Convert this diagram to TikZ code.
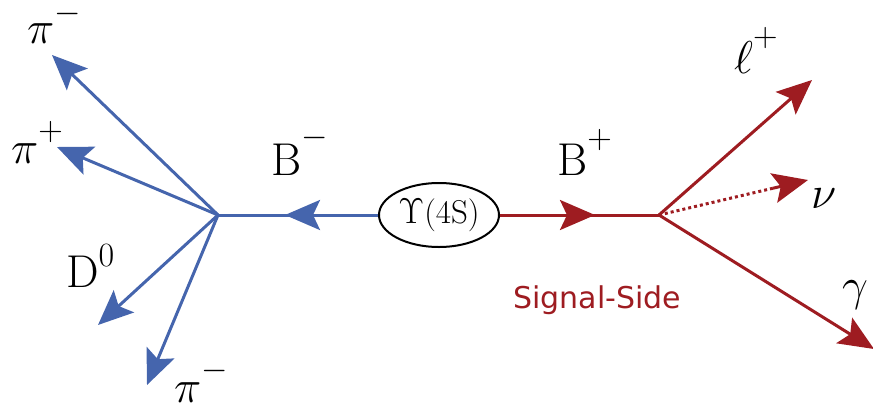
\RequirePackage{fix-cm}
\documentclass[tikz,border=0pt]{standalone}
\usepackage{fontspec}
\newfontfamily\sigfont{DejaVu Sans}
\usetikzlibrary{arrows.meta,shapes.geometric,calc}
\definecolor{tagblue}{HTML}{4565AD}
\definecolor{sigred}{HTML}{9E1C21}
\newcommand\hsup[2][23]{\raisebox{#1pt}[0pt][0pt]{\fontsize{34}{34}\selectfont$#2$}}
\tikzset{
  tiphead/.tip={Stealth[length=35pt,width=30pt,inset=7pt]},
  bline/.style={draw=tagblue,line width=3pt},
  rline/.style={draw=sigred,line width=3pt},
  barrow/.style={bline,-{tiphead[fill=tagblue]}},
  rarrow/.style={rline,-{tiphead[fill=sigred]}},
  lbl/.style={font=\fontsize{46}{50}\selectfont,inner sep=0pt,anchor=base west},
}
\begin{document}
\begin{tikzpicture}[x=1pt,y=-1pt]
\useasboundingbox (0,0) rectangle (873,410);
% central node
\node[draw=black,line width=2pt,ellipse,minimum width=120pt,minimum height=64pt,inner sep=0pt] (ups) at (439,215)
  {{\fontsize{36}{40}\selectfont$\Upsilon$}{\fontsize{33}{36}\selectfont(4S)}};
% vertices and tips
\coordinate (vL) at (218,215);
\coordinate (vR) at (659,215);
\coordinate (mL) at (285,215);
\coordinate (mR) at (595,215);
\coordinate (tA) at (52,55);
\coordinate (tB) at (57,147);
\coordinate (tC) at (98,325);
\coordinate (tD) at (147,385);
\coordinate (tE) at (812,80);
\coordinate (tF) at (808,180);
\coordinate (tG) at (874,349);
% tag side
\draw[bline] (ups.west) -- (vL);
\draw[barrow] (ups.west) -- (mL);
\draw[barrow] (vL) -- (tA);
\draw[barrow] (vL) -- (tB);
\draw[barrow] (vL) -- (tC);
\draw[barrow] (vL) -- (tD);
% signal side
\draw[rline] (ups.east) -- (vR);
\draw[rarrow] (ups.east) -- (mR);
\draw[rarrow] (vR) -- (tE);
\draw[rarrow] (vR) -- (tG);
\draw[sigred,line width=3pt,dash pattern=on 3pt off 3pt] (vR) -- ($(tF)!33pt!(vR)$);
\draw[rarrow] ($(tF)!36pt!(vR)$) -- (tF);
% labels
\node[lbl] (lA) at (27,43) {$\pi$\hsup[21]{-}};
\node[lbl] (lB) at (11,163) {$\pi$\hsup{+}};
\node[lbl] (lC) at (66,287) {D\hsup[21]{0}};
\node[lbl] (lD) at (174,402) {$\pi$\hsup{-}};
\node[lbl] (lBm) at (271,175) {B\hsup[29]{-}};
\node[lbl] (lBp) at (557,175) {B\hsup[27]{+}};
\node[lbl] (lE) at (734,73) {$\ell$\hsup[27]{+}};
\node[lbl] (lF) at (811,208) {$\nu$};
\node[lbl] (lG) at (842,300) {$\gamma$};
\node[inner sep=0pt,anchor=base west,text=sigred,font=\sigfont\fontsize{30}{34}\selectfont] (sig) at (513,308) {Signal-Side};
\end{tikzpicture}
\end{document}
